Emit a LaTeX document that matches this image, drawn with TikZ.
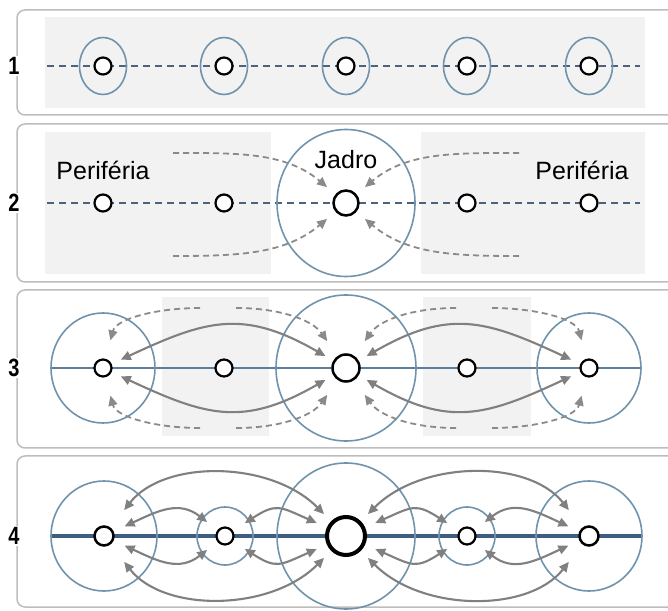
\documentclass[tikz,border=0pt]{standalone}
\usepackage{fontspec}
\setmainfont{Liberation Sans}
\newfontfamily\numfont[FakeStretch=0.8,UprightFont={* Bold}]{Liberation Sans}
\usetikzlibrary{arrows.meta}
\definecolor{ringblue}{HTML}{7093AD}
\definecolor{axisblue}{HTML}{4D637D}
\definecolor{railblue}{HTML}{5E7F9C}
\definecolor{mainblue}{HTML}{3D5E80}
\definecolor{flowgray}{HTML}{808080}
\definecolor{pullgray}{HTML}{8A8A8A}
\definecolor{boxgray}{HTML}{F2F2F2}
\definecolor{framegray}{HTML}{BDBDBD}

\begin{document}
\begin{tikzpicture}[x=1pt,y=1pt,
    frame/.style={draw=framegray, line width=1.5pt, rounded corners=8pt},
    ring/.style={draw=ringblue, line width=1.6pt},
    town/.style={circle, draw=black, fill=white, line width=2.2pt, inner sep=0pt, minimum size=17pt},
    core/.style={town, line width=2.5pt, minimum size=26pt},
    axis/.style={axisblue, line width=2pt, dash pattern=on 7pt off 5pt},
    flow/.style={flowgray, line width=2.1pt, {Triangle[length=10pt,width=9pt]}-{Triangle[length=10pt,width=9pt]}},
    pull/.style={pullgray, line width=1.8pt, dash pattern=on 6pt off 4pt, -{Triangle[length=10pt,width=9pt]}},
    tag/.style={fill=white, inner sep=1pt, font=\numfont\fontsize{25}{25}\selectfont},
    word/.style={font=\fontsize{25}{25}\selectfont}]
  \useasboundingbox (0,0) rectangle (668,610);
  \clip (0,0) rectangle (668,610);

  % frames and shaded strips
  \draw[frame] (17,600) rectangle (690,495);
  \draw[frame] (17,486) rectangle (690,328);
  \draw[frame] (17,320) rectangle (690,162);
  \draw[frame] (17,154) rectangle (690,3);
  \fill[boxgray] (45,593) rectangle (645,502);
  \fill[boxgray] (45,478) rectangle (271,336);
  \fill[boxgray] (421,478) rectangle (645,336);
  \fill[boxgray] (162,313) rectangle (269,174);
  \fill[boxgray] (423,313) rectangle (531,174);

  \node[tag] (t1) at (14,544) {1};
  \node[tag] (t2) at (14,407) {2};
  \node[tag] (t3) at (14,242) {3};
  \node[tag] (t4) at (14,74) {4};

  % 1: five equal towns
  \coordinate (a0) at (47,544);
  \coordinate (a6) at (640,544);
  \draw[axis] (a0) -- (a6);
  \foreach \x/\n in {103/1,224/2,346/3,467/4,589/5} {
    \draw[ring] (\x,544) ellipse (23.5 and 28.5);
    \node[town] (a\n) at (\x,544) {};
  }

  % 2: core and periphery
  \coordinate (b0) at (47,407);
  \coordinate (b6) at (640,407);
  \draw[axis] (b0) -- (b6);
  \draw[ring] (346,407) ellipse (69 and 73.5);
  \foreach \x/\n in {103/1,224/2,467/4,589/5}
    \node[town] (b\n) at (\x,407) {};
  \node[core, minimum size=25pt] (b3) at (346,407) {};
  \node[word] (w1) at (103,440) {Periféria};
  \node[word] (w2) at (346,450) {Jadro};
  \node[word] (w3) at (582,440) {Periféria};
  \coordinate (bu1) at (173,457);
  \coordinate (bl1) at (173,354);
  \coordinate (bu2) at (519,457);
  \coordinate (bl2) at (519,354);
  \draw[pull, shorten >=11pt] (bu1) to[out=0,in=140] (b3);
  \draw[pull, shorten >=11pt] (bl1) to[out=0,in=-140] (b3);
  \draw[pull, shorten >=11pt] (bu2) to[out=180,in=40] (b3);
  \draw[pull, shorten >=11pt] (bl2) to[out=180,in=-40] (b3);

  % 3: three centres linked
  \coordinate (c0) at (51,242);
  \coordinate (c6) at (641,242);
  \draw[railblue, line width=2pt] (c0) -- (c6);
  \draw[ring] (103,242) ellipse (52 and 55);
  \draw[ring] (346,242) ellipse (70 and 73);
  \draw[ring] (589,242) ellipse (52 and 55);
  \foreach \x/\n in {103/1,224/2,467/4,589/5}
    \node[town] (c\n) at (\x,242) {};
  \node[core, minimum size=27pt] (c3) at (346,242) {};
  \draw[flow, shorten <=10pt, shorten >=9pt, looseness=1.2] (c1) to[out=25,in=150] (c3);
  \draw[flow, shorten <=10pt, shorten >=9pt, looseness=1.2] (c1) to[out=-25,in=-150] (c3);
  \draw[flow, shorten <=9pt, shorten >=10pt, looseness=1.2] (c3) to[out=30,in=155] (c5);
  \draw[flow, shorten <=9pt, shorten >=10pt, looseness=1.2] (c3) to[out=-30,in=-155] (c5);
  \coordinate (cu1) at (200,302);
  \coordinate (cu2) at (236,302);
  \coordinate (cu3) at (456,302);
  \coordinate (cu4) at (492,302);
  \coordinate (cl1) at (200,182);
  \coordinate (cl2) at (236,182);
  \coordinate (cl3) at (456,182);
  \coordinate (cl4) at (492,182);
  \draw[pull, shorten >=19pt] (cu1) to[out=180,in=75] (c1);
  \draw[pull, shorten >=19pt] (cl1) to[out=180,in=-75] (c1);
  \draw[pull, shorten >=18pt] (cu2) to[out=0,in=125] (c3);
  \draw[pull, shorten >=18pt] (cl2) to[out=0,in=-125] (c3);
  \draw[pull, shorten >=18pt] (cu3) to[out=180,in=55] (c3);
  \draw[pull, shorten >=18pt] (cl3) to[out=180,in=-55] (c3);
  \draw[pull, shorten >=19pt] (cu4) to[out=0,in=105] (c5);
  \draw[pull, shorten >=19pt] (cl4) to[out=0,in=-105] (c5);

  % 4: a full network
  \coordinate (d0) at (51,74);
  \coordinate (d6) at (641,74);
  \draw[mainblue, line width=3.5pt] (d0) -- (d6);
  \draw[ring] (104,74) ellipse (53 and 55);
  \draw[ring] (225,74) ellipse (28 and 29);
  \draw[ring] (346,74) ellipse (69 and 73);
  \draw[ring] (467,74) ellipse (28 and 29);
  \draw[ring] (589,74) ellipse (53 and 55);
  \node[town, line width=2.5pt, minimum size=19pt] (d1) at (104,74) {};
  \node[town] (d2) at (225,74) {};
  \node[core, line width=4pt, minimum size=38pt] (d3) at (346,74) {};
  \node[town] (d4) at (467,74) {};
  \node[town, line width=2.5pt, minimum size=19pt] (d5) at (589,74) {};
  % long arcs
  \draw[flow, shorten <=22pt, shorten >=10pt] (d1) to[out=52,in=135] (d3);
  \draw[flow, shorten <=22pt, shorten >=10pt] (d1) to[out=-52,in=-135] (d3);
  \draw[flow, shorten <=10pt, shorten >=22pt] (d3) to[out=45,in=128] (d5);
  \draw[flow, shorten <=10pt, shorten >=22pt] (d3) to[out=-45,in=-128] (d5);
  % short arcs
  \draw[flow, shorten <=12pt, shorten >=13pt, looseness=1.2] (d1) to[out=25,in=142] (d2);
  \draw[flow, shorten <=12pt, shorten >=13pt, looseness=1.2] (d1) to[out=-25,in=-142] (d2);
  \draw[flow, shorten <=14pt, shorten >=11pt, looseness=1.4] (d2) to[out=33,in=156] (d3);
  \draw[flow, shorten <=14pt, shorten >=11pt, looseness=1.4] (d2) to[out=-33,in=-156] (d3);
  \draw[flow, shorten <=11pt, shorten >=14pt, looseness=1.4] (d3) to[out=24,in=147] (d4);
  \draw[flow, shorten <=11pt, shorten >=14pt, looseness=1.4] (d3) to[out=-24,in=-147] (d4);
  \draw[flow, shorten <=13pt, shorten >=12pt, looseness=1.2] (d4) to[out=38,in=155] (d5);
  \draw[flow, shorten <=13pt, shorten >=12pt, looseness=1.2] (d4) to[out=-38,in=-155] (d5);
\end{tikzpicture}
\end{document}
